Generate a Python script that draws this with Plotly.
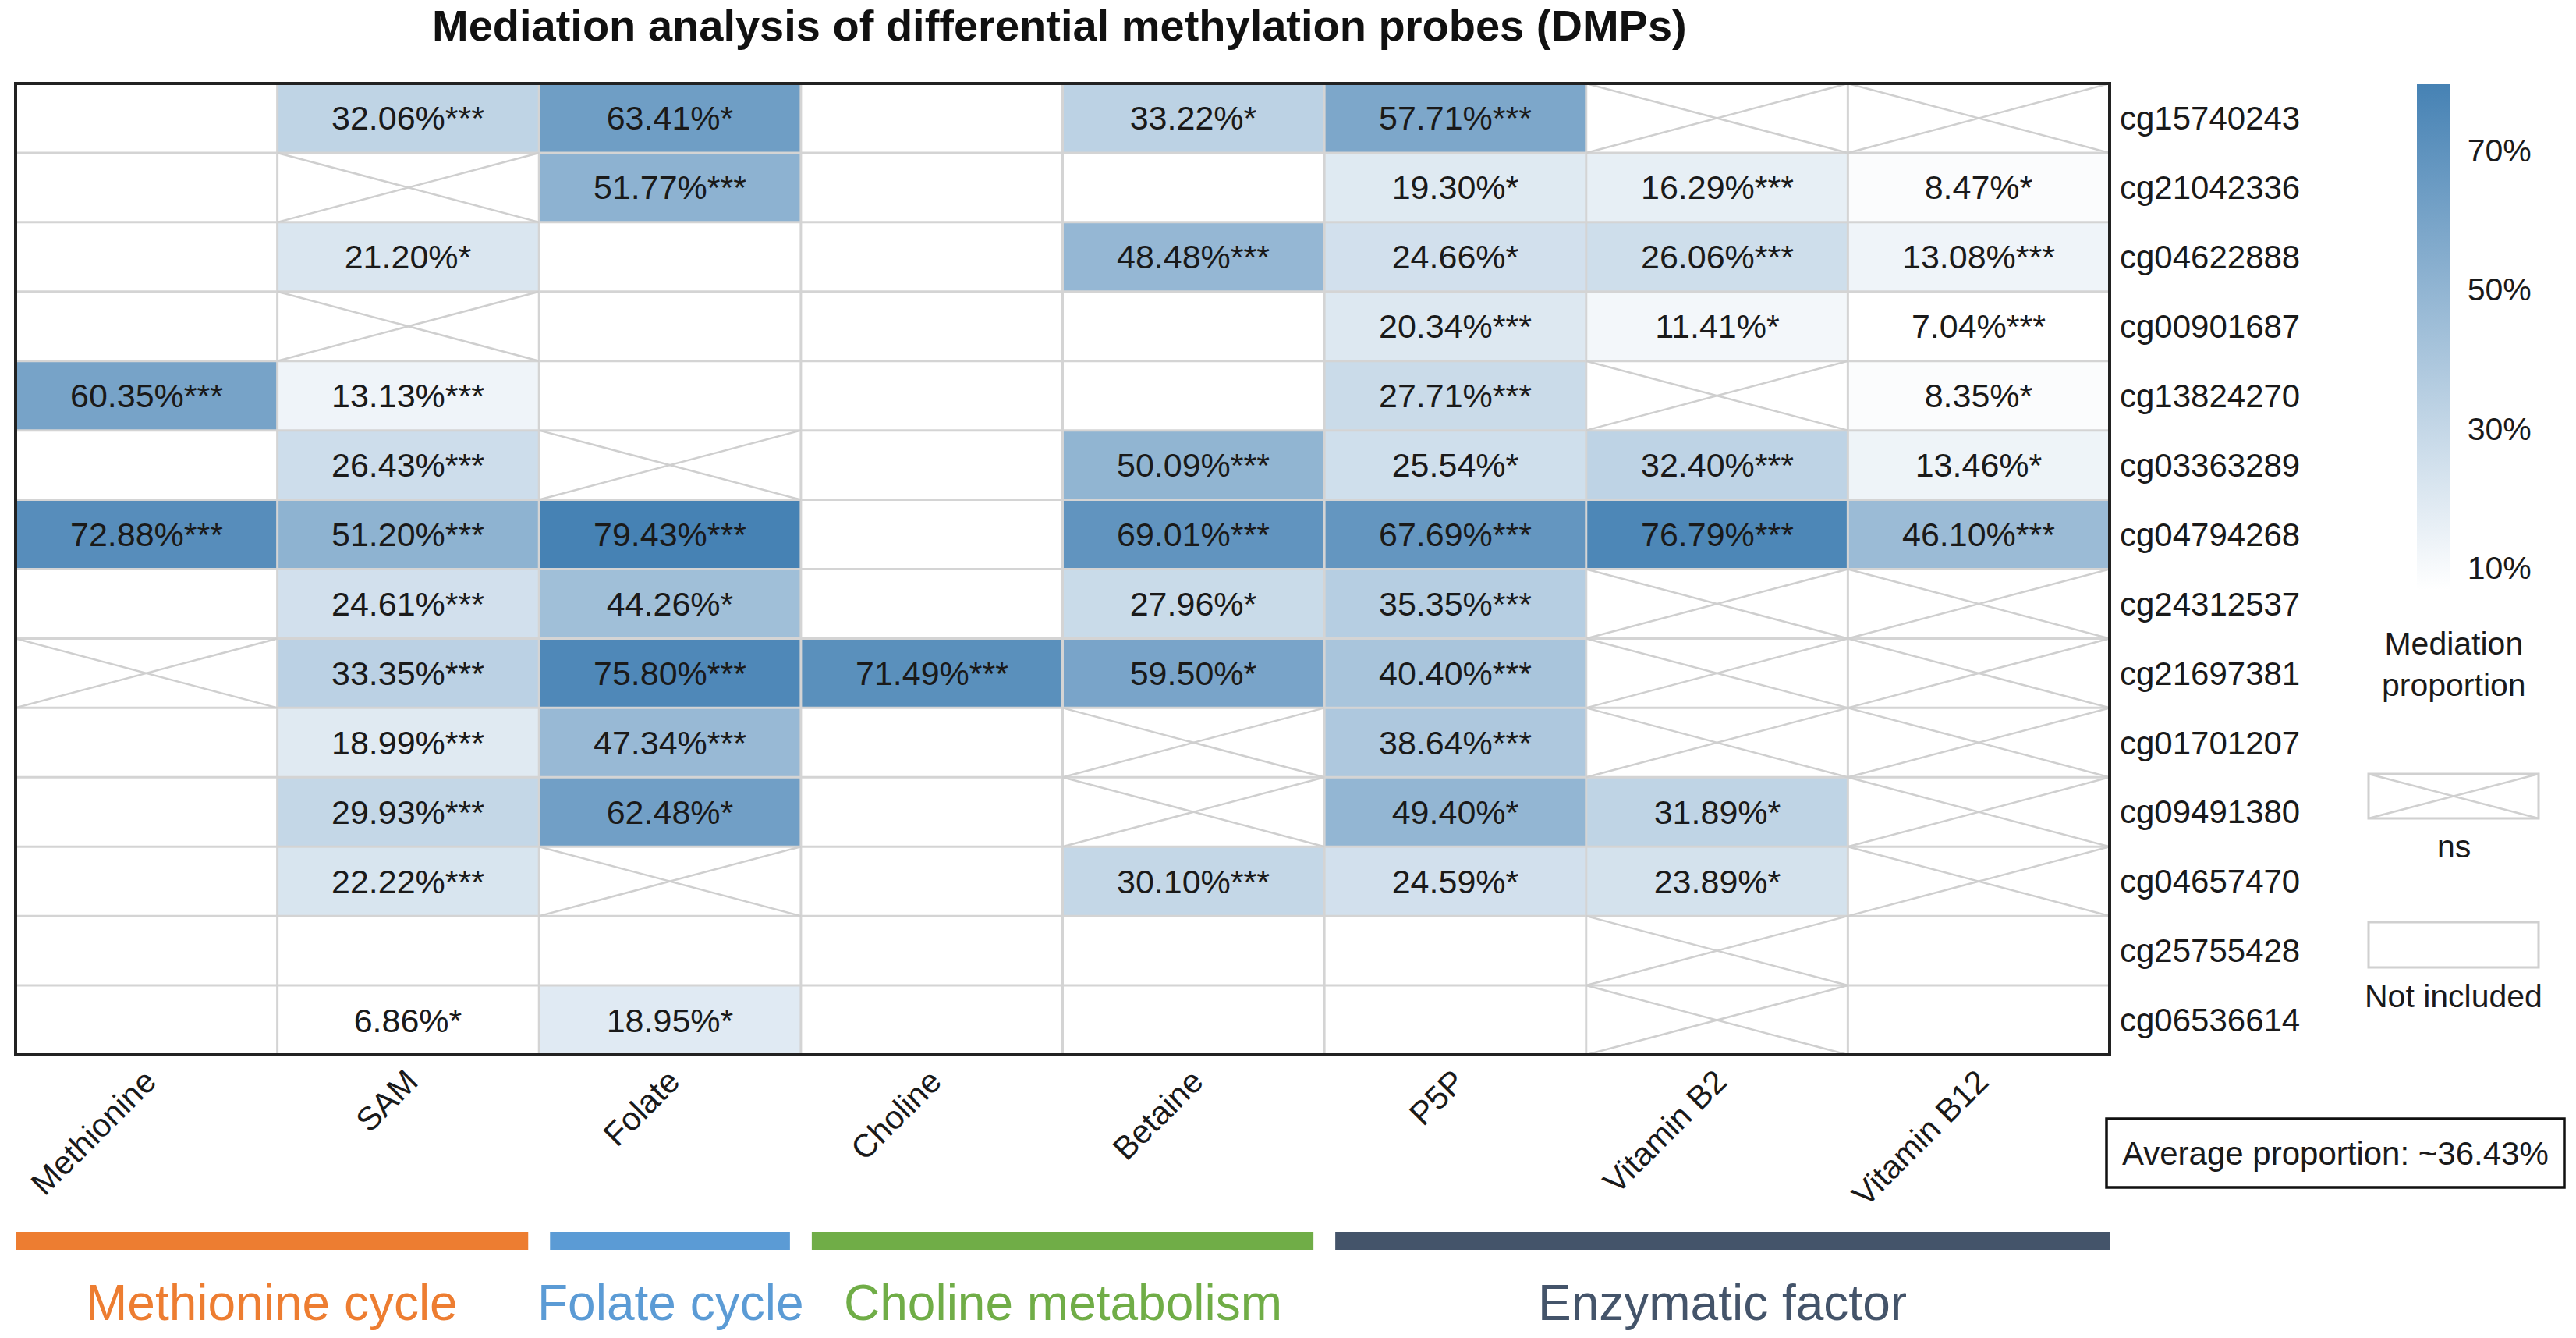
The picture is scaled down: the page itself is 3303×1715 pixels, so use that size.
import plotly.graph_objects as go

# ---------------- data ----------------
rows = ["cg15740243", "cg21042336", "cg04622888", "cg00901687", "cg13824270",
        "cg03363289", "cg04794268", "cg24312537", "cg21697381", "cg01701207",
        "cg09491380", "cg04657470", "cg25755428", "cg06536614"]
cols = ["Methionine", "SAM", "Folate", "Choline", "Betaine", "P5P",
        "Vitamin B2", "Vitamin B12"]

# mediation proportion (%) ; None = not significant or not included
proportion = [
    [None, 32.06, 63.41, None, 33.22, 57.71, None, None],
    [None, None, 51.77, None, None, 19.30, 16.29, 8.47],
    [None, 21.20, None, None, 48.48, 24.66, 26.06, 13.08],
    [None, None, None, None, None, 20.34, 11.41, 7.04],
    [60.35, 13.13, None, None, None, 27.71, None, 8.35],
    [None, 26.43, None, None, 50.09, 25.54, 32.40, 13.46],
    [72.88, 51.20, 79.43, None, 69.01, 67.69, 76.79, 46.10],
    [None, 24.61, 44.26, None, 27.96, 35.35, None, None],
    [None, 33.35, 75.80, 71.49, 59.50, 40.40, None, None],
    [None, 18.99, 47.34, None, None, 38.64, None, None],
    [None, 29.93, 62.48, None, None, 49.40, 31.89, None],
    [None, 22.22, None, None, 30.10, 24.59, 23.89, None],
    [None, None, None, None, None, None, None, None],
    [None, 6.86, 18.95, None, None, None, None, None],
]
# significance: "***", "*", "ns" (non-significant) or "" (not included)
significance = [
    ["", "***", "*", "", "*", "***", "ns", "ns"],
    ["", "ns", "***", "", "", "*", "***", "*"],
    ["", "*", "", "", "***", "*", "***", "***"],
    ["", "ns", "", "", "", "***", "*", "***"],
    ["***", "***", "", "", "", "***", "ns", "*"],
    ["", "***", "ns", "", "***", "*", "***", "*"],
    ["***", "***", "***", "", "***", "***", "***", "***"],
    ["", "***", "*", "", "*", "***", "ns", "ns"],
    ["ns", "***", "***", "***", "*", "***", "ns", "ns"],
    ["", "***", "***", "", "ns", "***", "ns", "ns"],
    ["", "***", "*", "", "ns", "*", "*", "ns"],
    ["", "***", "ns", "", "***", "*", "*", "ns"],
    ["", "", "", "", "", "", "ns", ""],
    ["", "*", "*", "", "", "", "ns", ""],
]
cbar_ticks = [10, 30, 50, 70]
cbar_ticktext = ["10%", "30%", "50%", "70%"]

groups = ["Methionine cycle", "Folate cycle", "Choline metabolism", "Enzymatic factor"]
group_start = [0, 2, 3, 5]
group_end = [1, 2, 4, 7]
group_colors = ["#ED7D31", "#5B9BD5", "#70AD47", "#44546A"]

avg_text = "Average proportion: ~36.43%"
title_text = "Mediation analysis of differential methylation probes (DMPs)"

# ---------------- layout helpers ----------------
W, H = 3303, 1715
FONT = "Liberation Sans, Arial, sans-serif"
TXT = "#1a1a1a"
HM_L, HM_R, HM_T, HM_B = 20, 2705, 107, 1352


def X(px):
    return px / W


def Y(py):
    return 1 - py / H


ncol, nrow = len(cols), len(rows)
col_px = (HM_R - HM_L) / ncol

vals = [v for r in proportion for v in r if v is not None]
zmin, zmax = min(vals), max(vals)

text = [[("" if v is None else f"{v:.2f}%{s}") for v, s in zip(rv, rs)]
        for rv, rs in zip(proportion, significance)]

fig = go.Figure()
fig.add_trace(go.Heatmap(
    z=proportion, x=list(range(ncol)), y=list(range(nrow)),
    text=text, texttemplate="%{text}",
    textfont=dict(family=FONT, size=43, color=TXT),
    colorscale=[[0, "#ffffff"], [1, "#4682b4"]],
    zmin=zmin, zmax=zmax, hoverinfo="skip",
    colorbar=dict(
        x=X(3099), xanchor="left", y=Y(108), yanchor="top",
        thickness=43, thicknessmode="pixels", len=648, lenmode="pixels",
        tickvals=cbar_ticks, ticktext=cbar_ticktext,
        tickfont=dict(family=FONT, size=41, color=TXT),
        ticks="outside", ticklen=14, tickcolor="rgba(0,0,0,0)",
        outlinewidth=0, xpad=0, ypad=0, borderwidth=0,
    ),
))

shapes = []
GRID = "#d4d4d4"
# grid lines
for k in range(1, ncol):
    shapes.append(dict(type="line", xref="x", yref="y", x0=k - 0.5, x1=k - 0.5,
                       y0=-0.5, y1=nrow - 0.5, line=dict(color=GRID, width=3), layer="above"))
for k in range(1, nrow):
    shapes.append(dict(type="line", xref="x", yref="y", x0=-0.5, x1=ncol - 0.5,
                       y0=k - 0.5, y1=k - 0.5, line=dict(color=GRID, width=3), layer="above"))
# ns crosses
for i, rs in enumerate(significance):
    for j, s in enumerate(rs):
        if s == "ns":
            for ya, yb in ((i - 0.5, i + 0.5), (i + 0.5, i - 0.5)):
                shapes.append(dict(type="line", xref="x", yref="y", x0=j - 0.5, x1=j + 0.5,
                                   y0=ya, y1=yb, line=dict(color="#cfcfcf", width=2.5),
                                   layer="above"))
# heatmap border
shapes.append(dict(type="rect", xref="paper", yref="paper", x0=X(HM_L), x1=X(HM_R),
                   y0=Y(HM_B), y1=Y(HM_T), line=dict(color="#222222", width=4),
                   layer="above"))

# legend boxes
for (t, b), cross in (((992, 1049), True), ((1182, 1240), False)):
    shapes.append(dict(type="rect", xref="paper", yref="paper", x0=X(3037), x1=X(3255),
                       y0=Y(b), y1=Y(t), line=dict(color="#d0d0d0", width=3)))
    if cross:
        shapes.append(dict(type="line", xref="paper", yref="paper", x0=X(3037), x1=X(3255),
                           y0=Y(t), y1=Y(b), line=dict(color="#d0d0d0", width=2.5)))
        shapes.append(dict(type="line", xref="paper", yref="paper", x0=X(3037), x1=X(3255),
                           y0=Y(b), y1=Y(t), line=dict(color="#d0d0d0", width=2.5)))

# average box
shapes.append(dict(type="rect", xref="paper", yref="paper", x0=X(2701), x1=X(3288),
                   y0=Y(1522), y1=Y(1434), line=dict(color="#111111", width=3.5)))

# group bars
inset = 14 / col_px
annotations = []
for name, s, e, c in zip(groups, group_start, group_end, group_colors):
    x0 = s - 0.5 + (inset if s > 0 else 0)
    x1 = e + 0.5 - (inset if e < ncol - 1 else 0)
    shapes.append(dict(type="rect", xref="x", yref="paper", x0=x0, x1=x1,
                       y0=Y(1602), y1=Y(1579), fillcolor=c, line=dict(width=0)))
    annotations.append(dict(xref="x", yref="paper", x=(x0 + x1) / 2, y=Y(1670),
                            text=name, showarrow=False, xanchor="center", yanchor="middle",
                            font=dict(family=FONT, size=64, color=c)))

annotations += [
    dict(xref="paper", yref="paper", x=X(1358), y=Y(33), text=f"<b>{title_text}</b>",
         showarrow=False, xanchor="center", yanchor="middle",
         font=dict(family=FONT, size=56, color="#111111")),
    dict(xref="paper", yref="paper", x=X(3146), y=Y(851), text="Mediation<br>proportion",
         showarrow=False, xanchor="center", yanchor="middle",
         font=dict(family=FONT, size=41, color=TXT)),
    dict(xref="paper", yref="paper", x=X(3146), y=Y(1085), text="ns",
         showarrow=False, xanchor="center", yanchor="middle",
         font=dict(family=FONT, size=41, color=TXT)),
    dict(xref="paper", yref="paper", x=X(3146), y=Y(1277), text="Not included",
         showarrow=False, xanchor="center", yanchor="middle",
         font=dict(family=FONT, size=41, color=TXT)),
    dict(xref="paper", yref="paper", x=X(2994.5), y=Y(1478), text=avg_text,
         showarrow=False, xanchor="center", yanchor="middle",
         font=dict(family=FONT, size=42, color=TXT)),
]

fig.update_layout(
    width=W, height=H, margin=dict(l=0, r=0, t=0, b=0),
    paper_bgcolor="white", plot_bgcolor="white",
    shapes=shapes, annotations=annotations, showlegend=False,
    xaxis=dict(domain=[X(HM_L), X(HM_R)], range=[-0.5, ncol - 0.5],
               tickvals=list(range(ncol)), ticktext=cols, tickangle=-45,
               tickfont=dict(family=FONT, size=42, color=TXT),
               showgrid=False, zeroline=False, showline=False, ticks="",
               fixedrange=True),
    yaxis=dict(domain=[Y(HM_B), Y(HM_T)], range=[nrow - 0.5, -0.5],
               tickvals=list(range(nrow)), ticktext=rows, side="right",
               tickfont=dict(family=FONT, size=42, color=TXT),
               showgrid=False, zeroline=False, showline=False, ticks="",
               ticklabelstandoff=12, fixedrange=True),
)

fig.write_html("out.html", config={"displayModeBar": False},
               post_script="document.body.style.margin='0';document.body.style.overflow='hidden';")
